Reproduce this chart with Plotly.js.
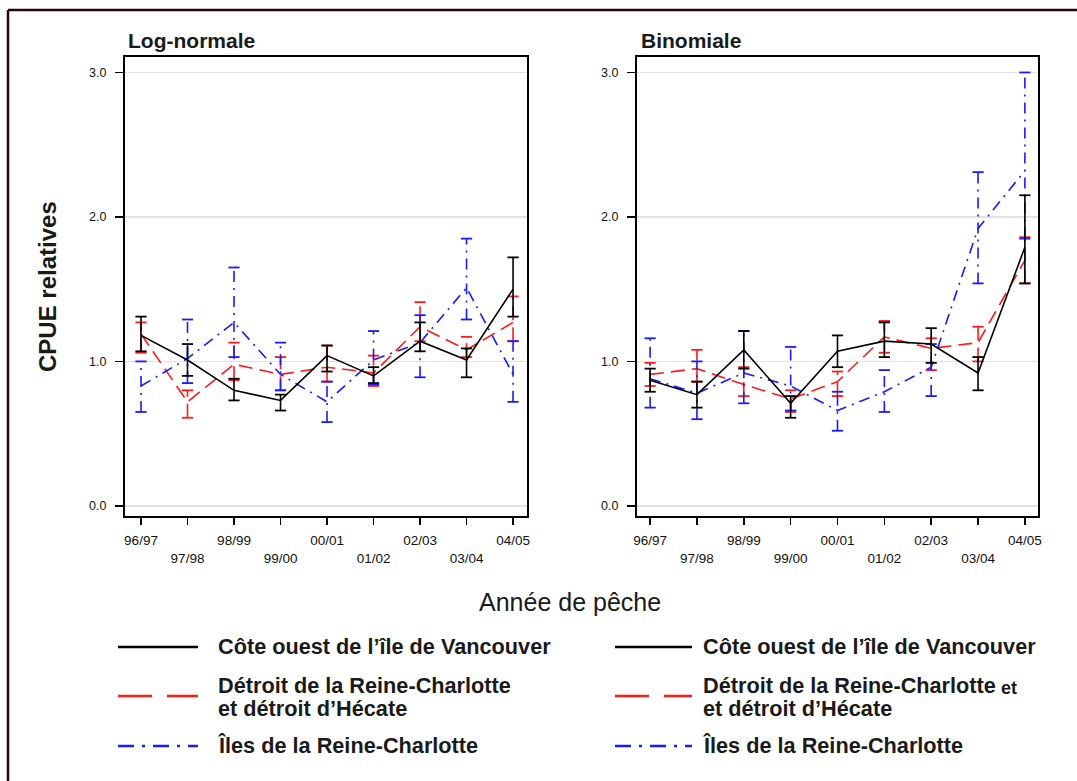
<!DOCTYPE html>
<html>
<head>
<meta charset="utf-8">
<script src="https://cdn.plot.ly/plotly-3.0.1.min.js"></script>
<style>html,body{margin:0;padding:0;background:#fff;}#chart{width:1077px;height:781px;}</style>
</head>
<body>
<div id="chart"></div>
<script>
// ---- Data ----
const seasons = ['96/97','97/98','98/99','99/00','00/01','01/02','02/03','03/04','04/05'];
const yTickVals = [0, 1, 2, 3];
const yTickText = ['0.0', '1.0', '2.0', '3.0'];

// Log-normale panel
const lnVanc   = [1.18, 1.01, 0.80, 0.73, 1.04, 0.90, 1.14, 1.01, 1.50];
const lnVancLo = [1.07, 0.90, 0.73, 0.66, 0.93, 0.85, 1.07, 0.89, 1.31];
const lnVancHi = [1.31, 1.12, 0.88, 0.77, 1.11, 0.96, 1.27, 1.09, 1.72];

const lnDet   = [1.19, 0.72, 0.98, 0.91, 0.96, 0.92, 1.24, 1.08, 1.27];
const lnDetLo = [1.06, 0.61, 0.87, 0.80, 0.86, 0.83, 1.14, 1.03, 1.14];
const lnDetHi = [1.27, 0.80, 1.13, 1.03, 1.11, 1.04, 1.41, 1.17, 1.45];

const lnIles   = [0.83, 1.02, 1.27, 0.91, 0.72, 1.01, 1.13, 1.51, 0.91];
const lnIlesLo = [0.65, 0.85, 1.03, 0.80, 0.58, 0.84, 0.89, 1.29, 0.72];
const lnIlesHi = [1.00, 1.29, 1.65, 1.13, 0.86, 1.21, 1.32, 1.85, 1.14];

// Binomiale panel
const biVanc   = [0.87, 0.77, 1.08, 0.71, 1.07, 1.14, 1.12, 0.92, 1.79];
const biVancLo = [0.79, 0.68, 0.95, 0.61, 0.96, 1.03, 0.99, 0.80, 1.54];
const biVancHi = [0.95, 0.86, 1.21, 0.76, 1.18, 1.27, 1.23, 1.03, 2.15];

const biDet   = [0.91, 0.95, 0.84, 0.74, 0.86, 1.17, 1.09, 1.13, 1.70];
const biDetLo = [0.83, 0.86, 0.76, 0.65, 0.76, 1.06, 0.94, 1.00, 1.54];
const biDetHi = [0.99, 1.08, 0.96, 0.80, 0.93, 1.28, 1.16, 1.24, 1.86];

const biIles   = [0.88, 0.78, 0.92, 0.83, 0.66, 0.79, 0.96, 1.92, 2.32];
const biIlesLo = [0.68, 0.60, 0.71, 0.66, 0.52, 0.65, 0.76, 1.54, 1.85];
const biIlesHi = [1.16, 1.00, 1.21, 1.10, 0.79, 0.94, 1.12, 2.31, 3.00];

const legendLines = [
  ['Côte ouest de l’île de Vancouver'],
  ['Détroit de la Reine-Charlotte', 'et détroit d’Hécate'],
  ['Îles de la Reine-Charlotte']
];

// ---- Styles ----
const W = 1077, H = 781;
const px = v => v / W;
const py = v => 1 - v / H;
const styles = {
  vanc: {color: '#000000', dash: 'solid', width: 1.6},
  det:  {color: '#ff1a1a', dash: '14px,7px', width: 1.6},
  iles: {color: '#1a1aff', dash: '11px,6px,2px,6px', width: 1.6}
};
const xIdx = seasons.map((s, i) => i);

function series(vals, lo, hi, st, xa, ya) {
  const sx = [], sy = [], cx = [], cy = [];
  xIdx.forEach(i => {
    sx.push(i, i, null); sy.push(lo[i], hi[i], null);
    cx.push(i, i); cy.push(lo[i], hi[i]);
  });
  return [
    {type: 'scatter', mode: 'lines', x: sx, y: sy, xaxis: xa, yaxis: ya, connectgaps: false,
     line: {color: st.color, dash: st.dash, width: st.width}, showlegend: false, hoverinfo: 'skip'},
    {type: 'scatter', mode: 'markers', x: cx, y: cy, xaxis: xa, yaxis: ya,
     marker: {symbol: 'line-ew', size: 8, line: {color: st.color, width: 1.8}}, showlegend: false, hoverinfo: 'skip'},
    {type: 'scatter', mode: 'lines', x: xIdx, y: vals, xaxis: xa, yaxis: ya,
     line: {color: st.color, dash: st.dash, width: st.width}, showlegend: false, hoverinfo: 'skip'}
  ];
}

const data = [].concat(
  series(lnDet, lnDetLo, lnDetHi, styles.det, 'x', 'y'),
  series(lnIles, lnIlesLo, lnIlesHi, styles.iles, 'x', 'y'),
  series(lnVanc, lnVancLo, lnVancHi, styles.vanc, 'x', 'y'),
  series(biDet, biDetLo, biDetHi, styles.det, 'x2', 'y2'),
  series(biIles, biIlesLo, biIlesHi, styles.iles, 'x2', 'y2'),
  series(biVanc, biVancLo, biVancHi, styles.vanc, 'x2', 'y2')
);

const xTickFont = {family: 'Liberation Sans, Arial, sans-serif', size: 13.5, color: '#111'};
const yTickFont = {family: 'Liberation Sans, Arial, sans-serif', size: 12.5, color: '#111'};
const tickText = seasons.map((s, i) => i % 2 === 1 ? '<br>' + s : s);

function xAxis(domain, range, anchor) {
  return {domain: domain, range: range, anchor: anchor, tickmode: 'array',
    tickvals: xIdx, ticktext: tickText, ticks: 'outside', ticklen: 7, tickwidth: 1.6,
    tickcolor: '#000', showline: true, linecolor: '#000', linewidth: 2, mirror: true,
    showgrid: false, zeroline: false, tickfont: xTickFont, ticklabelstandoff: 4};
}
function yAxis(domain, anchor) {
  return {domain: domain, range: [-0.07, 3.107], anchor: anchor, tickmode: 'array',
    tickvals: yTickVals, ticktext: yTickText, ticks: 'outside', ticklen: 8, tickwidth: 1.6,
    tickcolor: '#000', showline: true, linecolor: '#000', linewidth: 2, mirror: true,
    showgrid: true, gridcolor: '#e2e2e2', gridwidth: 1.6, zeroline: false, tickfont: yTickFont,
    ticklabelstandoff: 6};
}

const yDom = [py(516), py(57)];
const boldFont = (s) => ({family: 'Liberation Sans, Arial, sans-serif', size: s, color: '#1a1a1a', weight: 'bold'});

const annotations = [
  {text: '<b>Log-normale</b>', x: px(126), y: py(40), xref: 'paper', yref: 'paper', xanchor: 'left', yanchor: 'middle', showarrow: false, font: boldFont(21)},
  {text: '<b>Binomiale</b>', x: px(639), y: py(40), xref: 'paper', yref: 'paper', xanchor: 'left', yanchor: 'middle', showarrow: false, font: boldFont(21)},
  {text: '<b>CPUE relatives</b>', x: px(47), y: py(287), xref: 'paper', yref: 'paper', xanchor: 'center', yanchor: 'middle', textangle: -90, showarrow: false, font: boldFont(24)},
  {text: 'Année de pêche', x: px(570), y: py(602), xref: 'paper', yref: 'paper', xanchor: 'center', yanchor: 'middle', showarrow: false, font: {family: 'Liberation Sans, Arial, sans-serif', size: 25, color: '#1a1a1a'}}
];
const shapes = [
  {type: 'line', xref: 'paper', yref: 'paper', x0: px(8), x1: px(1077), y0: py(10), y1: py(10), line: {color: '#2a0505', width: 2.5}},
  {type: 'line', xref: 'paper', yref: 'paper', x0: px(8), x1: px(8), y0: py(10), y1: py(781), line: {color: '#2a0505', width: 2.5}}
];

// Legends (two identical blocks)
const legendBlocks = [{x0: 118, x1: 198, tx: 216}, {x0: 615, x1: 692, tx: 701}];
const legRows = [
  {st: styles.vanc, ly: 647, ty: [646], dash: 'solid'},
  {st: styles.det, ly: 696, ty: [685, 708], dash: '34px,15px'},
  {st: styles.iles, ly: 746, ty: [745], dash: '16px,8px,3px,8px'}
];
legendBlocks.forEach(b => {
  legRows.forEach((r, k) => {
    shapes.push({type: 'line', xref: 'paper', yref: 'paper', x0: px(b.x0), x1: px(b.x1), y0: py(r.ly), y1: py(r.ly),
      line: {color: r.st.color, width: 2.6, dash: r.dash}});
    legendLines[k].forEach((t, j) => {
      annotations.push({text: '<b>' + t + '</b>', x: px(b.tx), y: py(r.ty[j]), xref: 'paper', yref: 'paper',
        xanchor: 'left', yanchor: 'middle', align: 'left', showarrow: false, font: boldFont(21.7)});
    });
  });
});
annotations.push({text: '<b>et</b>', x: px(999), y: py(688), xref: 'paper', yref: 'paper', xanchor: 'left', yanchor: 'middle', showarrow: false, font: boldFont(18)});

const layout = {
  width: W, height: H, margin: {l: 0, r: 0, t: 0, b: 0},
  paper_bgcolor: '#fff', plot_bgcolor: '#fff', showlegend: false,
  xaxis: xAxis([px(125), px(527)], [-0.344, 8.3], 'y'),
  yaxis: yAxis(yDom, 'x'),
  xaxis2: xAxis([px(637), px(1038)], [-0.28, 8.28], 'y2'),
  yaxis2: yAxis(yDom, 'x2'),
  annotations: annotations, shapes: shapes
};

Plotly.newPlot('chart', data, layout, {staticPlot: true});
</script>
</body>
</html>
